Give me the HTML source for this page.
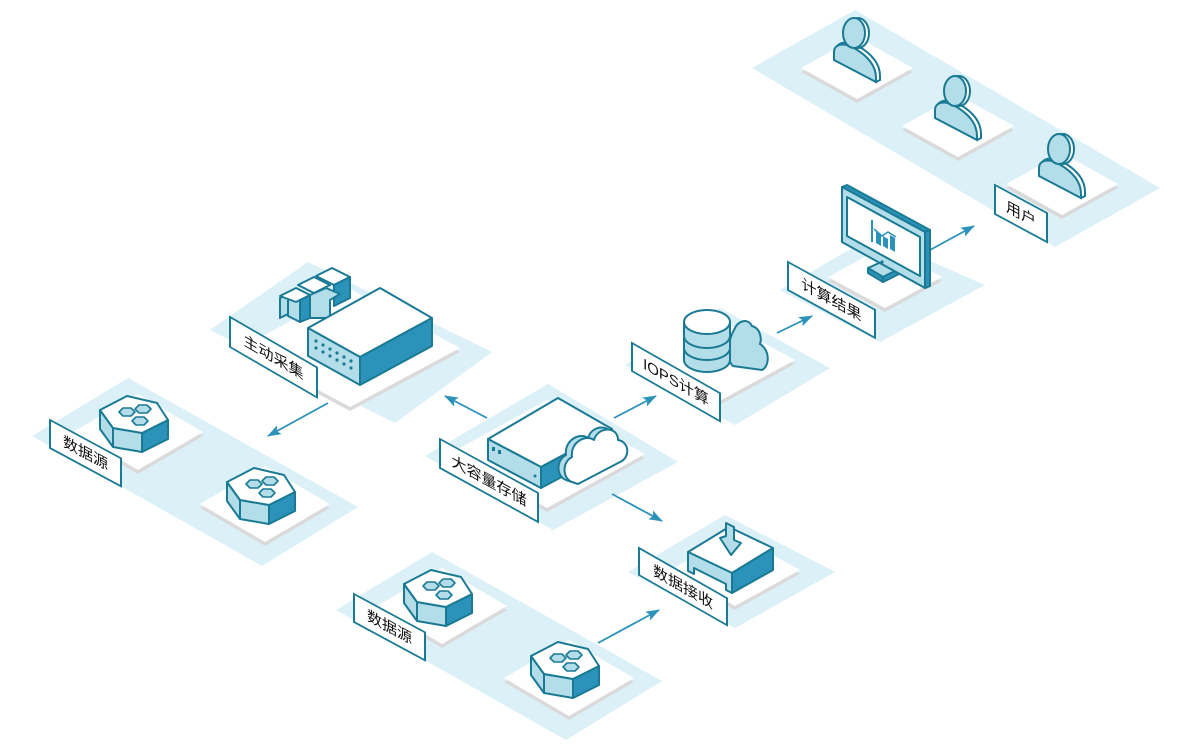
<!DOCTYPE html>
<html><head><meta charset="utf-8"><style>
html,body{margin:0;padding:0;background:#fff;width:1200px;height:750px;overflow:hidden}
svg{display:block}
text{font-family:"Liberation Sans","Noto Sans CJK SC",sans-serif;font-size:15px;fill:#111}
</style></head><body>
<svg width="1200" height="750" viewBox="0 0 1200 750" xmlns="http://www.w3.org/2000/svg">
<defs>
<marker id="ah" markerWidth="14" markerHeight="10" refX="13" refY="5" orient="auto" markerUnits="userSpaceOnUse" viewBox="0 0 14 10">
<path d="M0,0 L14,5 L0,10 L3,5 Z" fill="#2b92b9"/></marker>
<g id="hex" stroke="#1a7a94" stroke-width="2" stroke-linejoin="round">
<polygon points="100,410 113,428 113,447 100,429" fill="#b3dde9"/>
<polygon points="113,428 142,433 142,452 113,447" fill="#b3dde9"/>
<polygon points="142,433 168,420 168,439 142,452" fill="#2b92b9"/>
<polygon points="100,410 127,396 157,403 168,420 142,433 113,428" fill="#fff"/>
<g fill="#b3dde9" stroke-width="1.6">
<polygon points="119,412 123,408 131,408 135,412 131,416 123,416"/>
<polygon points="135,409 139,405 147,405 151,409 147,413 139,413"/>
<polygon points="132,421 136,417 144,417 148,421 144,425 136,425"/>
</g></g>
<g id="user" stroke="#1a7a94" stroke-width="2">
<path d="M836,50 C836,42 848,40 858,46 C872,54 880,64 880,76 L880,80 L876,82 L836,60 Z" fill="#fff"/>
<path d="M834,52 C834,44 844,42 854,48 C868,56 876,66 876,78 L876,82 L834,60 Z" fill="#b3dde9"/>
<ellipse cx="858" cy="33" rx="11" ry="15" fill="#fff"/>
<ellipse cx="854" cy="33" rx="11" ry="15" fill="#b3dde9"/>
</g>
</defs>

<g fill="#dcf0f8">
<polygon points="32,436 128,378 358,507 262,566"/>
<polygon points="336,610 432,552 662,681 566,740"/>
<polygon points="210,330 308,262 492,352 395,423"/>
<polygon points="425,456 548,384 678,462 553,530"/>
<polygon points="625,365 720,308 830,368 735,425"/>
<polygon points="780,290 873,236 985,285 880,342"/>
<polygon points="752,68 855,10 1160,188 1055,247"/>
<polygon points="628,572 725,515 835,572 735,628"/>
</g>

<g>
<g fill="#dadada">
<polygon points="73,436 138,398 203,436 138,474"/>
<polygon points="200,508 265,470 330,508 265,546"/>
<polygon points="377,610 442,572 507,610 442,648"/>
<polygon points="504,682 569,644 634,682 569,720"/>
<polygon points="240,352 350,293 460,352 350,411"/>
<polygon points="449,458 547,404 645,458 547,512"/>
<polygon points="629,364 712,319 795,364 712,409"/>
<polygon points="828,281 885,250 942,281 885,312"/>
<polygon points="801,72 857,41 913,72 857,103"/>
<polygon points="902,130 958,99 1014,130 958,161"/>
<polygon points="1006,188 1062,157 1118,188 1062,219"/>
<polygon points="670,574 735,538 800,574 735,610"/>
</g>
<g fill="#fff">
<polygon points="73,432 138,394 203,432 138,470"/>
<polygon points="200,504 265,466 330,504 265,542"/>
<polygon points="377,606 442,568 507,606 442,644"/>
<polygon points="504,678 569,640 634,678 569,716"/>
<polygon points="240,348 350,289 460,348 350,407"/>
<polygon points="449,454 547,400 645,454 547,508"/>
<polygon points="629,360 712,315 795,360 712,405"/>
<polygon points="828,277 885,246 942,277 885,308"/>
<polygon points="801,68 857,37 913,68 857,99"/>
<polygon points="902,126 958,95 1014,126 958,157"/>
<polygon points="1006,184 1062,153 1118,184 1062,215"/>
<polygon points="670,570 735,534 800,570 735,606"/>
</g></g>

<g stroke="#2b92b9" stroke-width="1.8" fill="none" marker-end="url(#ah)">
<line x1="487" y1="418" x2="445" y2="396"/>
<line x1="614" y1="418" x2="656" y2="396"/>
<line x1="612" y1="494" x2="662" y2="521"/>
<line x1="328" y1="403" x2="268" y2="436"/>
<line x1="777" y1="333" x2="812" y2="316"/>
<line x1="930" y1="250" x2="974" y2="226"/>
<line x1="598" y1="643" x2="659" y2="610"/>
</g>

<use href="#hex"/>
<use href="#hex" transform="translate(127,72)"/>
<use href="#hex" transform="translate(304,174)"/>
<use href="#hex" transform="translate(431,246)"/>

<g stroke="#1a7a94" stroke-width="2" stroke-linejoin="round">
<polygon points="280,298 288,294 288,314 280,318" fill="#b3dde9"/>
<polygon points="288,294 300,300 300,322 288,316" fill="#b3dde9"/>
<polygon points="300,300 310,295 310,318 300,322" fill="#2b92b9"/>
<polygon points="280,296 296,288 310,295 296,302" fill="#fff"/>
<polygon points="298,285 314,277 330,285 314,293" fill="#fff"/>
<polygon points="316,276 332,268 350,277 334,285" fill="#fff"/>
<polygon points="334,285 350,277 350,298 334,306" fill="#2b92b9"/>
<polygon points="310,295 326,288 340,294 330,300 330,318 310,318" fill="#b3dde9"/>
<polygon points="308,328 380,288 432,318 360,357" fill="#fff"/>
<polygon points="308,328 360,357 360,385 308,356" fill="#b3dde9"/>
<polygon points="360,357 432,318 432,346 360,385" fill="#2b92b9"/>
</g>
<g fill="#1a7a94">
<circle cx="316" cy="341" r="1.6"/><circle cx="323" cy="345" r="1.6"/><circle cx="330" cy="349" r="1.6"/><circle cx="337" cy="353" r="1.6"/><circle cx="344" cy="357" r="1.6"/><circle cx="351" cy="361" r="1.6"/>
<circle cx="316" cy="348" r="1.6"/><circle cx="323" cy="352" r="1.6"/><circle cx="330" cy="356" r="1.6"/><circle cx="337" cy="360" r="1.6"/><circle cx="344" cy="364" r="1.6"/><circle cx="351" cy="368" r="1.6"/>
</g>

<g stroke="#1a7a94" stroke-width="2" stroke-linejoin="round">
<polygon points="488,439 558,398 612,429 541,467" fill="#fff"/>
<polygon points="488,439 541,467 541,488 488,460" fill="#b3dde9"/>
<polygon points="541,467 612,429 612,450 541,488" fill="#2b92b9"/>
<path d="M566,480 C556,476 556,460 566,455 C564,440 580,432 588,438 C592,424 612,424 612,438 C624,440 624,456 614,460 L572,482 Z" fill="#b3dde9"/>
<path d="M572,482 C562,478 562,462 572,457 C570,442 586,434 594,440 C598,426 618,426 618,440 C630,442 630,458 620,462 L578,484 Z" fill="#fff"/>
</g>
<g fill="#1a7a94"><rect x="492" y="447" width="3" height="4"/><rect x="498" y="450" width="3" height="4"/><circle cx="535" cy="476" r="1.5"/></g>

<g stroke="#1a7a94" stroke-width="2">
<path d="M733,366 C726,360 728,340 734,330 C738,320 748,318 752,326 C760,328 762,338 760,344 C770,350 770,366 762,370 Z" fill="#b3dde9"/>
<path d="M684,322 L684,360 A23,12 0 0 0 730,360 L730,322" fill="#b3dde9"/>
<path d="M684,336 A23,12 0 0 0 730,336 M684,348 A23,12 0 0 0 730,348" fill="none"/>
<ellipse cx="707" cy="322" rx="23" ry="12" fill="#fff"/>
</g>

<g stroke="#1a7a94" stroke-width="2" stroke-linejoin="round">
<polygon points="868,268 890,258 905,266 883,277" fill="#b3dde9"/>
<polygon points="868,268 883,277 883,282 868,273" fill="#2b92b9"/>
<polygon points="883,277 905,266 905,271 883,282" fill="#2b92b9"/>
<polygon points="842,187 847,185 930,230 925,232" fill="#2b92b9"/>
<polygon points="925,232 930,230 930,286 925,288" fill="#2b92b9"/>
<polygon points="842,187 925,232 925,288 842,242" fill="#b3dde9"/>
<polygon points="847,197 920,237 920,276 847,236" fill="#fff"/>
</g>
<g fill="#2b92b9"><rect x="871" y="220" width="2" height="22"/><polygon points="876,231 881,234 881,246 876,243"/><polygon points="883,236 888,239 888,249 883,246"/><polygon points="890,235 895,238 895,252 890,249"/></g>
<polyline points="874,229 882,236 888,232 896,237" stroke="#2b92b9" stroke-width="1.5" fill="none"/>
<circle cx="882" cy="262" r="1.6" fill="#1a7a94"/>

<use href="#user"/>
<use href="#user" transform="translate(101,58)"/>
<use href="#user" transform="translate(205,116)"/>

<g stroke="#1a7a94" stroke-width="2" stroke-linejoin="round">
<polygon points="688,552 729,527 773,548 732,573" fill="#fff"/>
<polygon points="688,552 732,573 732,593 726,590 726,584 694,568 694,574 688,571" fill="#b3dde9"/>
<polygon points="732,573 773,548 773,570 732,593" fill="#2b92b9"/>
<polygon points="726,523 734,527 734,540 741,543 731,555 720,538 726,536" fill="#b3dde9"/>
</g>

<g stroke="#1a7a94" stroke-width="2">
<g transform="matrix(1,0.54,0,1,50,420)"><rect width="71" height="28" fill="#fff"/><text x="35.5" y="19" text-anchor="middle" stroke="none">数据源</text></g>
<g transform="matrix(1,0.54,0,1,354,594)"><rect width="71" height="28" fill="#fff"/><text x="35.5" y="19" text-anchor="middle" stroke="none">数据源</text></g>
<g transform="matrix(1,0.58,0,1,230,317)"><rect width="87" height="30" fill="#fff"/><text x="43.5" y="20" text-anchor="middle" stroke="none">主动采集</text></g>
<g transform="matrix(1,0.55,0,1,440,439)"><rect width="98" height="29" fill="#fff"/><text x="49" y="20" text-anchor="middle" stroke="none">大容量存储</text></g>
<g transform="matrix(1,0.57,0,1,632,343)"><rect width="88" height="28" fill="#fff"/><text x="44" y="19" text-anchor="middle" stroke="none">IOPS计算</text></g>
<g transform="matrix(1,0.55,0,1,788,262)"><rect width="87" height="28" fill="#fff"/><text x="43.5" y="19" text-anchor="middle" stroke="none">计算结果</text></g>
<g transform="matrix(1,0.54,0,1,995,185)"><rect width="52" height="29" fill="#fff"/><text x="26" y="20" text-anchor="middle" stroke="none">用户</text></g>
<g transform="matrix(1,0.57,0,1,639,548)"><rect width="88" height="27" fill="#fff"/><text x="44" y="19" text-anchor="middle" stroke="none">数据接收</text></g>
</g>
</svg>
</body></html>
